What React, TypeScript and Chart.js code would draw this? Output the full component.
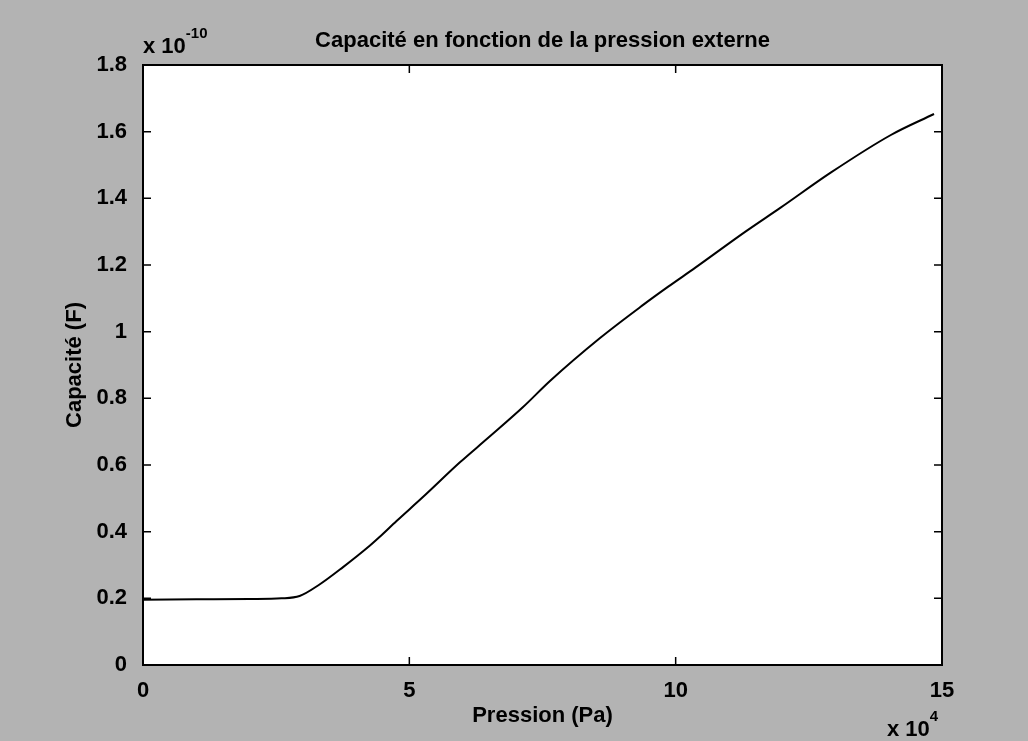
import React, { useEffect, useRef } from "react";
import { Chart, registerables } from "chart.js";

Chart.register(...registerables);

// Pressure in units of 1e4 Pa
const pressure = [0, 1, 2, 2.6, 2.94, 3.3, 3.75, 4.25, 4.44, 4.76, 5.25, 5.95, 6.47, 7.13, 7.64, 8.58, 9.37, 9.86, 10.37, 11.31, 11.97, 12.91, 14.04, 14.85];
// Capacitance in units of 1e-10 F
const capacitance = [0.196, 0.197, 0.198, 0.2, 0.207, 0.24, 0.293, 0.357, 0.384, 0.432, 0.503, 0.608, 0.68, 0.773, 0.852, 0.981, 1.078, 1.135, 1.192, 1.3, 1.372, 1.477, 1.59, 1.653];

const xTickValues = [0, 5, 10, 15];
const yTickValues = [0, 0.2, 0.4, 0.6, 0.8, 1, 1.2, 1.4, 1.6, 1.8];

const chartTitle = "Capacité en fonction de la pression externe";
const xAxisLabel = "Pression (Pa)";
const yAxisLabel = "Capacité (F)";
const xMultiplierBase = "x 10";
const xMultiplierExp = "4";
const yMultiplierBase = "x 10";
const yMultiplierExp = "-10";

const FONT = '"Liberation Sans", Arial, Helvetica, sans-serif';
const BG = "#b3b3b3";

const framePlugin = {
  id: "matlabFrame",
  beforeDraw(chart: any) {
    const { ctx, chartArea: a, width, height } = chart;
    ctx.save();
    ctx.fillStyle = BG;
    ctx.fillRect(0, 0, width, height);
    ctx.fillStyle = "#ffffff";
    ctx.fillRect(a.left, a.top, a.right - a.left, a.bottom - a.top);
    ctx.restore();
  },
  afterDraw(chart: any) {
    const { ctx, chartArea: a, scales } = chart;
    ctx.save();
    ctx.strokeStyle = "#000";
    ctx.lineWidth = 2;
    ctx.strokeRect(a.left, a.top, a.right - a.left, a.bottom - a.top);
    const tl = 8;
    ctx.lineWidth = 1.5;
    ctx.beginPath();
    scales.x.ticks.forEach((t: any) => {
      const px = scales.x.getPixelForValue(t.value);
      ctx.moveTo(px, a.bottom);
      ctx.lineTo(px, a.bottom - tl);
      ctx.moveTo(px, a.top);
      ctx.lineTo(px, a.top + tl);
    });
    scales.y.ticks.forEach((t: any) => {
      const py = scales.y.getPixelForValue(t.value);
      ctx.moveTo(a.left, py);
      ctx.lineTo(a.left + tl, py);
      ctx.moveTo(a.right, py);
      ctx.lineTo(a.right - tl, py);
    });
    ctx.stroke();

    ctx.fillStyle = "#000";
    ctx.textAlign = "left";
    ctx.textBaseline = "alphabetic";
    // y multiplier (top-left)
    ctx.font = `bold 22px ${FONT}`;
    ctx.fillText(yMultiplierBase, a.left, a.top - 12);
    const w1 = ctx.measureText(yMultiplierBase).width;
    ctx.font = `bold 15px ${FONT}`;
    ctx.fillText(yMultiplierExp, a.left + w1, a.top - 27);
    // x multiplier (bottom-right)
    ctx.font = `bold 22px ${FONT}`;
    const bx = a.right - 55;
    ctx.fillText(xMultiplierBase, bx, a.bottom + 71);
    const w2 = ctx.measureText(xMultiplierBase).width;
    ctx.font = `bold 15px ${FONT}`;
    ctx.fillText(xMultiplierExp, bx + w2, a.bottom + 56);
    ctx.restore();
  },
};

export default function App() {
  const canvasRef = useRef<HTMLCanvasElement | null>(null);

  useEffect(() => {
    document.body.style.margin = "0";
    const canvas = canvasRef.current;
    if (!canvas) return;
    const points = pressure.map((p, i) => ({ x: p, y: capacitance[i] }));
    const tickFont = { family: FONT, size: 22, weight: "bold" };
    const chart = new Chart(canvas, {
      type: "line",
      data: {
        datasets: [
          {
            data: points,
            borderColor: "#000",
            borderWidth: 2,
            pointRadius: 0,
            cubicInterpolationMode: "monotone",
            fill: false,
          },
        ],
      },
      options: {
        animation: false,
        responsive: false,
        devicePixelRatio: 1,
        layout: { padding: { left: 0, right: 86, top: 0, bottom: 0 } },
        plugins: {
          legend: { display: false },
          tooltip: { enabled: false },
          title: {
            display: true,
            fullSize: false,
            text: chartTitle,
            color: "#000",
            font: tickFont,
            padding: { top: 27.8, bottom: 10.8 },
          },
        },
        scales: {
          x: {
            type: "linear",
            min: 0,
            max: 15,
            afterBuildTicks: (scale: any) => {
              scale.ticks = xTickValues.map((v) => ({ value: v }));
            },
            afterFit: (scale: any) => {
              scale.height = 76;
            },
            grid: { display: false },
            border: { display: false },
            ticks: {
              color: "#000",
              font: tickFont,
              padding: 5,
              maxRotation: 0,
              callback: (v: any) => String(v),
            },
            title: {
              display: true,
              text: xAxisLabel,
              color: "#000",
              font: tickFont,
              padding: { top: 0, bottom: 11.8 },
            },
          },
          y: {
            type: "linear",
            min: 0,
            max: 1.8,
            afterBuildTicks: (scale: any) => {
              scale.ticks = yTickValues.map((v) => ({ value: v }));
            },
            afterFit: (scale: any) => {
              scale.width = 143;
            },
            grid: { display: false },
            border: { display: false },
            ticks: {
              color: "#000",
              font: tickFont,
              padding: 8,
              callback: (v: any) => String(Math.round(Number(v) * 10) / 10),
            },
            title: {
              display: true,
              text: yAxisLabel,
              color: "#000",
              font: tickFont,
              padding: { top: 61.8, bottom: 0 },
            },
          },
        },
      },
      plugins: [framePlugin],
    } as any);
    return () => chart.destroy();
  }, []);

  return (
    <div style={{ position: "fixed", left: 0, top: 0, width: 1028, height: 741, background: BG }}>
      <canvas ref={canvasRef} width={1028} height={741} style={{ display: "block" }} />
    </div>
  );
}
